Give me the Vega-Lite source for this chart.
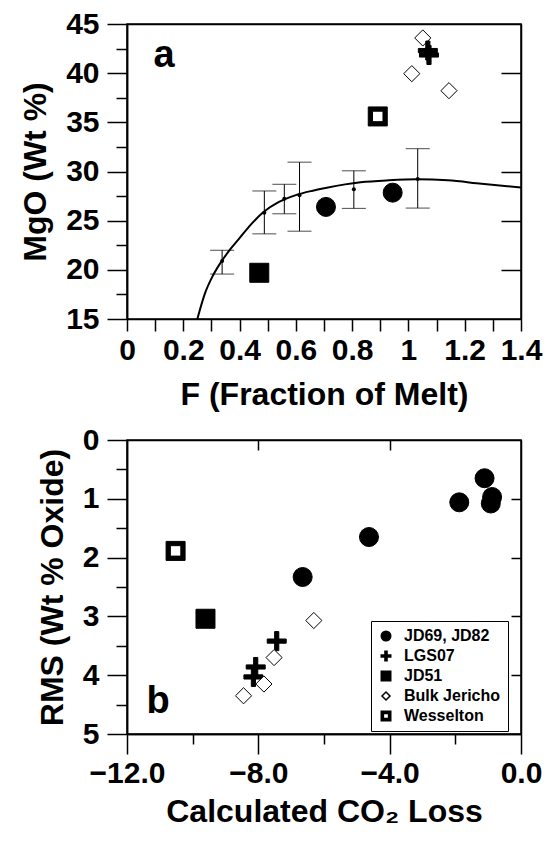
{
  "$schema": "https://vega.github.io/schema/vega-lite/v6.json",
  "background": "white",
  "padding": {"left": 18, "top": 8, "right": 0, "bottom": 2},
  "spacing": 13,
  "config": {
    "font": "Liberation Sans",
    "view": {"stroke": "black", "strokeWidth": 1.5},
    "axis": {
      "domainColor": "black", "domainWidth": 1.5, "tickColor": "black", "tickWidth": 1.5,
      "labelColor": "black", "labelFont": "Liberation Sans", "labelFontWeight": "bold", "labelFontSize": 30,
      "titleFont": "Liberation Sans", "titleFontWeight": "bold", "titleFontSize": 32, "titleColor": "black",
      "grid": false, "labelOverlap": false, "labelFlush": false
    },
    "legend": {
      "labelFont": "Liberation Sans", "labelFontWeight": "bold", "labelFontSize": 16, "labelColor": "black",
      "strokeColor": "black", "fillColor": "white", "padding": 7, "rowPadding": 4, "symbolSize": 90, "labelOffset": 10
    }
  },
  "datasets": {
    "curve": [
      {"F": 0.25, "MgO": 15.0}, {"F": 0.277, "MgO": 17.6}, {"F": 0.305, "MgO": 19.4}, {"F": 0.336, "MgO": 20.87},
      {"F": 0.37, "MgO": 22.2}, {"F": 0.402, "MgO": 23.3}, {"F": 0.44, "MgO": 24.6}, {"F": 0.484, "MgO": 25.85},
      {"F": 0.54, "MgO": 26.9}, {"F": 0.6, "MgO": 27.6}, {"F": 0.66, "MgO": 28.05}, {"F": 0.71, "MgO": 28.35},
      {"F": 0.83, "MgO": 28.9}, {"F": 0.93, "MgO": 29.1}, {"F": 1.03, "MgO": 29.2}, {"F": 1.14, "MgO": 29.1},
      {"F": 1.26, "MgO": 28.75}, {"F": 1.4, "MgO": 28.38}
    ],
    "err": [
      {"F": 0.338, "MgO": 20.9, "lo": 19.57, "hi": 21.99},
      {"F": 0.488, "MgO": 25.8, "lo": 23.66, "hi": 28.02},
      {"F": 0.559, "MgO": 27.24, "lo": 25.7, "hi": 28.7},
      {"F": 0.613, "MgO": 27.58, "lo": 23.93, "hi": 30.95},
      {"F": 0.806, "MgO": 28.2, "lo": 26.25, "hi": 30.07},
      {"F": 1.033, "MgO": 29.25, "lo": 26.28, "hi": 32.32}
    ],
    "apts": [
      {"group": "JD69, JD82", "F": 0.707, "MgO": 26.4},
      {"group": "JD69, JD82", "F": 0.944, "MgO": 27.85},
      {"group": "Bulk Jericho", "F": 1.051, "MgO": 43.58},
      {"group": "Bulk Jericho", "F": 1.012, "MgO": 39.95},
      {"group": "Bulk Jericho", "F": 1.144, "MgO": 38.22},
      {"group": "LGS07", "F": 1.069, "MgO": 42.3},
      {"group": "LGS07", "F": 1.073, "MgO": 41.85},
      {"group": "JD51", "F": 0.47, "MgO": 19.7},
      {"group": "Wesselton", "F": 0.891, "MgO": 35.6}
    ],
    "bpts": [
      {"group": "JD69, JD82", "CO2": -6.65, "RMS": 2.33},
      {"group": "JD69, JD82", "CO2": -4.63, "RMS": 1.65},
      {"group": "JD69, JD82", "CO2": -1.88, "RMS": 1.06},
      {"group": "JD69, JD82", "CO2": -1.11, "RMS": 0.65},
      {"group": "JD69, JD82", "CO2": -0.88, "RMS": 0.97},
      {"group": "JD69, JD82", "CO2": -0.92, "RMS": 1.08},
      {"group": "LGS07", "CO2": -7.44, "RMS": 3.42},
      {"group": "LGS07", "CO2": -8.08, "RMS": 3.86},
      {"group": "LGS07", "CO2": -8.15, "RMS": 4.03},
      {"group": "JD51", "CO2": -9.61, "RMS": 3.04},
      {"group": "Bulk Jericho", "CO2": -6.31, "RMS": 3.07},
      {"group": "Bulk Jericho", "CO2": -7.52, "RMS": 3.7},
      {"group": "Bulk Jericho", "CO2": -7.83, "RMS": 4.15},
      {"group": "Bulk Jericho", "CO2": -8.45, "RMS": 4.35},
      {"group": "Wesselton", "CO2": -10.52, "RMS": 1.886}
    ],
    "alabel": [{"F": 0.132, "MgO": 41.7, "t": "a"}],
    "blabel": [{"CO2": -11.05, "RMS": 4.46, "t": "b"}]
  },
  "resolve": {"scale": {"shape": "independent", "fill": "independent"}},
  "vconcat": [
    {
      "width": 394,
      "height": 295,
      "resolve": {"axis": {"x": "independent", "y": "independent"}},
      "layer": [
        {
          "data": {"name": "curve"},
          "mark": {"type": "line", "color": "black", "strokeWidth": 2, "interpolate": "monotone", "clip": true},
          "encoding": {
            "x": {"field": "F", "type": "quantitative", "scale": {"domain": [0, 1.4], "nice": false, "zero": false},
              "axis": {"orient": "bottom", "title": "F (Fraction of Melt)", "values": [0, 0.1, 0.2, 0.3, 0.4, 0.5, 0.6, 0.7, 0.8, 0.9, 1, 1.1, 1.2, 1.3, 1.4],
                "tickSize": 12, "labelPadding": 4, "titlePadding": 14,
                "labelExpr": "abs(datum.value*5 - round(datum.value*5)) < 0.001 ? format(datum.value, '~g') : ''"}},
            "y": {"field": "MgO", "type": "quantitative", "scale": {"domain": [15, 45], "nice": false, "zero": false},
              "axis": {"orient": "left", "title": "MgO (Wt %)", "values": [15, 20, 25, 30, 35, 40, 45], "format": "d", "tickSize": 20, "labelPadding": 8, "titlePadding": 13}}
          }
        },
        {
          "data": {"name": "err"},
          "mark": {"type": "rule", "color": "black", "strokeWidth": 1},
          "encoding": {
            "x": {"field": "F", "type": "quantitative", "axis": {"orient": "top", "title": null, "labels": false, "ticks": false}},
            "y": {"field": "lo", "type": "quantitative", "axis": {"orient": "left", "title": null, "labels": false, "values": [17.5, 22.5, 27.5, 32.5, 37.5, 42.5], "tickSize": 11}},
            "y2": {"field": "hi"}
          }
        },
        {
          "data": {"name": "err"},
          "mark": {"type": "tick", "orient": "horizontal", "color": "black", "thickness": 1, "size": 24},
          "encoding": {
            "x": {"field": "F", "type": "quantitative", "axis": null},
            "y": {"field": "lo", "type": "quantitative", "axis": {"orient": "right", "title": null, "labels": false, "values": [20, 25, 30, 35, 40], "tickSize": -20}}
          }
        },
        {
          "data": {"name": "err"},
          "mark": {"type": "tick", "orient": "horizontal", "color": "black", "thickness": 1, "size": 24},
          "encoding": {
            "x": {"field": "F", "type": "quantitative", "axis": null},
            "y": {"field": "hi", "type": "quantitative", "axis": null}
          }
        },
        {
          "data": {"name": "err"},
          "mark": {"type": "point", "filled": true, "color": "black", "size": 16, "opacity": 1},
          "encoding": {
            "x": {"field": "F", "type": "quantitative", "axis": null},
            "y": {"field": "MgO", "type": "quantitative", "axis": null}
          }
        },
        {
          "data": {"name": "apts"},
          "mark": {"type": "point", "filled": true, "stroke": "black", "strokeWidth": 1, "size": 361, "opacity": 1},
          "encoding": {
            "x": {"field": "F", "type": "quantitative", "axis": null},
            "y": {"field": "MgO", "type": "quantitative", "axis": null},
            "shape": {"field": "group", "type": "nominal", "legend": null,
              "scale": {"domain": ["JD69, JD82", "LGS07", "JD51", "Bulk Jericho", "Wesselton"],
                "range": ["circle", "M-1,-0.22H1V0.22H-1Z M-0.22,-1H0.22V1H-0.22Z", "square", "M-0.85,0L0,-0.85L0.85,0L0,0.85Z", "M-1,-1H1V1H-1Z M-0.55,-0.55V0.55H0.55V-0.55Z"]}},
            "fill": {"field": "group", "type": "nominal", "legend": null,
              "scale": {"domain": ["JD69, JD82", "LGS07", "JD51", "Bulk Jericho", "Wesselton"], "range": ["black", "black", "black", "white", "black"]}}
          }
        },
        {
          "data": {"name": "alabel"},
          "mark": {"type": "text", "font": "Liberation Sans", "fontWeight": "bold", "fontSize": 38, "align": "center", "baseline": "middle", "color": "black"},
          "encoding": {
            "x": {"field": "F", "type": "quantitative", "axis": null},
            "y": {"field": "MgO", "type": "quantitative", "axis": null},
            "text": {"field": "t"}
          }
        }
      ]
    },
    {
      "width": 394,
      "height": 294,
      "resolve": {"axis": {"x": "independent", "y": "independent"}},
      "layer": [
        {
          "data": {"name": "bpts"},
          "transform": [{"filter": "datum.group != 'Bulk Jericho'"}],
          "mark": {"type": "point", "filled": true, "stroke": "black", "strokeWidth": 1, "size": 361, "opacity": 1},
          "encoding": {
            "x": {"field": "CO2", "type": "quantitative", "scale": {"domain": [-12, 0], "nice": false, "zero": false},
              "axis": {"orient": "bottom", "title": "Calculated CO₂ Loss", "values": [-12, -8, -4, 0], "format": ".1f", "tickSize": 20, "labelPadding": 4, "titlePadding": 8}},
            "y": {"field": "RMS", "type": "quantitative", "scale": {"domain": [0, 5], "reverse": true, "nice": false, "zero": false},
              "axis": {"orient": "left", "title": "RMS (Wt % Oxide)", "values": [0, 1, 2, 3, 4, 5], "format": "d", "tickSize": 20, "labelPadding": 8, "titlePadding": 13}},
            "shape": {"field": "group", "type": "nominal",
              "scale": {"domain": ["JD69, JD82", "LGS07", "JD51", "Bulk Jericho", "Wesselton"],
                "range": ["circle", "M-1,-0.22H1V0.22H-1Z M-0.22,-1H0.22V1H-0.22Z", "square", "M-0.85,0L0,-0.85L0.85,0L0,0.85Z", "M-1,-1H1V1H-1Z M-0.55,-0.55V0.55H0.55V-0.55Z"]},
              "legend": {"title": null, "orient": "none", "legendX": 244, "legendY": 181}},
            "fill": {"field": "group", "type": "nominal",
              "scale": {"domain": ["JD69, JD82", "LGS07", "JD51", "Bulk Jericho", "Wesselton"], "range": ["black", "black", "black", "white", "black"]},
              "legend": {"title": null, "orient": "none", "legendX": 244, "legendY": 181}}
          }
        },
        {
          "data": {"name": "bpts"},
          "transform": [{"filter": "datum.group == 'Bulk Jericho'"}],
          "mark": {"type": "point", "filled": true, "stroke": "black", "strokeWidth": 1, "size": 361, "opacity": 1},
          "encoding": {
            "x": {"field": "CO2", "type": "quantitative", "axis": {"orient": "bottom", "title": null, "labels": false, "values": [-10, -6, -2], "tickSize": 10}},
            "y": {"field": "RMS", "type": "quantitative", "axis": {"orient": "left", "title": null, "labels": false, "values": [0.5, 1.5, 2.5, 3.5, 4.5], "tickSize": 11}},
            "shape": {"field": "group", "type": "nominal"},
            "fill": {"field": "group", "type": "nominal"}
          }
        },
        {
          "data": {"name": "blabel"},
          "mark": {"type": "text", "font": "Liberation Sans", "fontWeight": "bold", "fontSize": 38, "align": "center", "baseline": "middle", "color": "black"},
          "encoding": {
            "x": {"field": "CO2", "type": "quantitative", "axis": {"orient": "top", "title": null, "labels": false, "values": [-8, -4], "tickSize": -10}},
            "y": {"field": "RMS", "type": "quantitative", "axis": {"orient": "right", "title": null, "labels": false, "values": [1, 2, 3, 4], "tickSize": -10}},
            "text": {"field": "t"}
          }
        }
      ]
    }
  ]
}
